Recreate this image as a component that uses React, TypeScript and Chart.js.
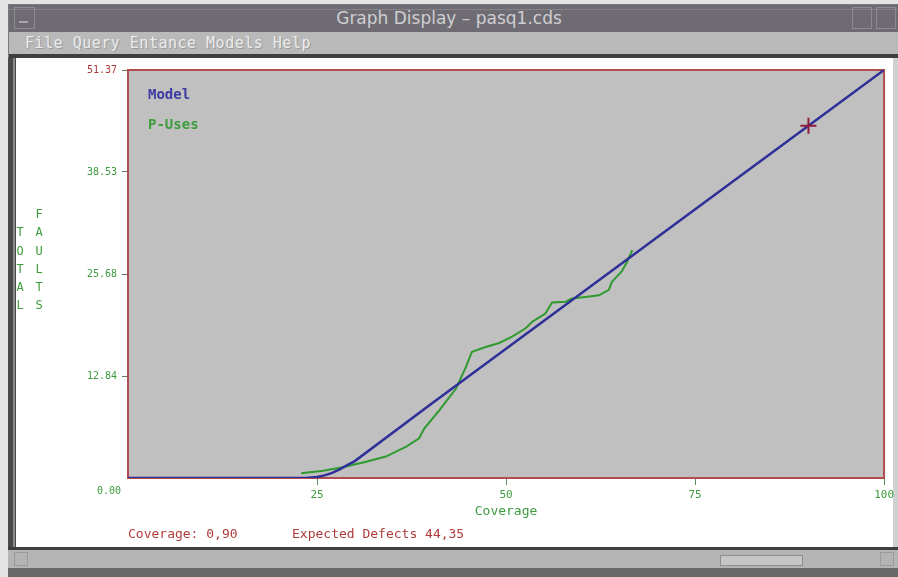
import React, { useEffect, useRef } from "react";
import { Chart, registerables } from "chart.js";

Chart.register(...registerables);

// ---- data ----
const modelCoverage = [0, 23.5, 25, 26, 27, 28, 29, 30, 40, 50, 60, 70, 80, 90, 100];
const modelFaults = [0, 0, 0.12, 0.33, 0.65, 1.08, 1.61, 2.13, 9.25, 16.27, 23.29, 30.31, 37.33, 44.35, 51.37];

const pUsesCoverage = [22.9, 25.8, 28.4, 31.5, 34.1, 36.8, 38.5, 39.2, 41.2, 43.4, 44.0, 44.7, 45.5, 47.3, 49.1, 50.8, 52.6, 53.5, 55.2, 56.1, 57.9, 58.7, 60.5, 62.3, 63.6, 64.0, 65.3, 66.0, 66.7];
const pUsesFaults = [0.6, 0.9, 1.35, 2.05, 2.7, 3.95, 5.0, 6.25, 8.55, 11.3, 12.55, 14.0, 15.9, 16.5, 17.0, 17.8, 18.85, 19.7, 20.7, 22.1, 22.2, 22.6, 22.8, 23.0, 23.7, 24.7, 26.0, 27.2, 28.7];

const markerCoverage = [90];
const markerFaults = [44.35];

const xTickValues = [25, 50, 75, 100];
const yTickValues = [12.84, 25.68, 38.53, 51.37];
const yZeroLabel = "0.00";
const xMin = 0;
const xMax = 100;
const yMin = 0;
const yMax = 51.37;

const seriesNames = ["Model", "P-Uses"];
const xTitle = "Coverage";
const yTitleCol1 = ["T", "O", "T", "A", "L"];
const yTitleCol2 = ["F", "A", "U", "L", "T", "S"];
const footerCoverage = "Coverage: 0,90";
const footerDefects = "Expected Defects 44,35";
const windowTitle = "Graph Display \u2013 pasq1.cds";
const menuItems = ["File", "Query", "Entance", "Models", "Help"];

// ---- styles ----
const GREEN = "#3d9c3d";
const BLUE = "#3b3ba3";
const RED = "#b03a3a";
const MONO = "'DejaVu Sans Mono', 'Liberation Mono', monospace";

const decorPlugin = {
  id: "decor",
  beforeDraw(chart: any) {
    const { ctx, chartArea: a } = chart;
    ctx.save();
    ctx.fillStyle = "#c0c0c0";
    ctx.fillRect(a.left, a.top, a.right - a.left, a.bottom - a.top);
    ctx.restore();
  },
  beforeDatasetsDraw(chart: any) {
    const { ctx, chartArea: a } = chart;
    ctx.save();
    ctx.strokeStyle = "#b34c52";
    ctx.lineWidth = 2;
    ctx.strokeRect(a.left, a.top, a.right - a.left, a.bottom - a.top);
    ctx.restore();
  },
  afterDraw(chart: any) {
    const { ctx, chartArea: a } = chart;
    ctx.save();
    // legend text
    ctx.textBaseline = "middle";
    ctx.textAlign = "left";
    ctx.font = `bold 14px ${MONO}`;
    ctx.fillStyle = BLUE;
    ctx.fillText(seriesNames[0], a.left + 20, a.top + 25);
    ctx.fillStyle = GREEN;
    ctx.fillText(seriesNames[1], a.left + 20, a.top + 55);
    // zero label of the y axis
    ctx.font = `10px ${MONO}`;
    ctx.textAlign = "right";
    ctx.fillStyle = GREEN;
    ctx.fillText(yZeroLabel, a.left - 7, a.bottom + 13);
    // stacked y title
    ctx.textAlign = "center";
    ctx.font = `12px ${MONO}`;
    const rowH = 18.2;
    const lastRow = 306;
    yTitleCol1.forEach((c, i) => {
      ctx.fillText(c, 20, lastRow - (yTitleCol1.length - 1 - i) * rowH);
    });
    yTitleCol2.forEach((c, i) => {
      ctx.fillText(c, 39, lastRow - (yTitleCol2.length - 1 - i) * rowH);
    });
    // footer
    ctx.textAlign = "left";
    ctx.font = `13px ${MONO}`;
    ctx.fillStyle = RED;
    ctx.fillText(footerCoverage, a.left, 535);
    ctx.fillText(footerDefects, 292, 535);
    ctx.restore();
  },
};

function ChartCanvas() {
  const ref = useRef<HTMLCanvasElement | null>(null);
  useEffect(() => {
    if (!ref.current) return;
    const chart = new Chart(ref.current, {
      type: "line",
      data: {
        datasets: [
          {
            label: seriesNames[0],
            data: modelCoverage.map((x, i) => ({ x, y: modelFaults[i] })),
            borderColor: "#2f2f98",
            borderWidth: 2.5,
            pointRadius: 0,
            tension: 0,
            order: 1,
          },
          {
            label: seriesNames[1],
            data: pUsesCoverage.map((x, i) => ({ x, y: pUsesFaults[i] })),
            borderColor: "#2f9a2f",
            borderWidth: 2,
            pointRadius: 0,
            tension: 0,
            order: 2,
          },
          {
            label: "Expected",
            data: markerCoverage.map((x, i) => ({ x, y: markerFaults[i] })),
            showLine: false,
            pointStyle: "cross",
            pointRadius: 8,
            borderColor: "#8c1c3c",
            borderWidth: 2,
            order: 0,
          },
        ],
      },
      options: {
        responsive: false,
        animation: false,
        layout: { padding: { left: 16, top: 70, right: 12, bottom: 58 } },
        plugins: { legend: { display: false }, tooltip: { enabled: false } },
        scales: {
          x: {
            type: "linear",
            min: xMin,
            max: xMax,
            afterBuildTicks: (s: any) => {
              s.ticks = xTickValues.map((v) => ({ value: v }));
            },
            afterFit: (s: any) => {
              s.height = 41;
            },
            ticks: {
              color: GREEN,
              font: { family: MONO, size: 11 },
              padding: 4,
              maxRotation: 0,
              autoSkip: false,
              callback: (v: any) => String(v),
            },
            grid: { drawOnChartArea: false, drawTicks: true, tickLength: 7, color: "#5a8a5a" },
            border: { display: false },
            title: {
              display: true,
              text: xTitle,
              color: GREEN,
              font: { family: MONO, size: 13 },
              padding: { top: 0, bottom: 0 },
            },
          },
          y: {
            type: "linear",
            min: yMin,
            max: yMax,
            afterBuildTicks: (s: any) => {
              s.ticks = yTickValues.map((v) => ({ value: v }));
            },
            afterFit: (s: any) => {
              s.width = 112;
            },
            ticks: {
              color: (c: any) => (c.tick && c.tick.value === yMax ? RED : GREEN),
              font: { family: MONO, size: 10 },
              padding: 5,
              autoSkip: false,
              callback: (v: any) => Number(v).toFixed(2),
            },
            grid: { drawOnChartArea: false, drawTicks: true, tickLength: 6, color: "#5a7a5a" },
            border: { display: false },
          },
        },
      },
      plugins: [decorPlugin],
    } as any);
    return () => chart.destroy();
  }, []);
  return (
    <canvas
      ref={ref}
      width={898}
      height={577}
      style={{ position: "absolute", left: 0, top: 0, width: 898, height: 577 }}
    />
  );
}

export default function App() {
  const abs = (s: React.CSSProperties): React.CSSProperties => ({ position: "absolute", ...s });
  return (
    <div style={{ position: "fixed", left: 0, top: 0, width: 898, height: 577, overflow: "hidden", background: "#e4e4e4" }}>
      {/* window frame */}
      <div style={abs({ left: 8, top: 4, width: 890, height: 573, background: "#7a7a7a" })} />
      {/* title bar */}
      <div style={abs({ left: 9, top: 5, width: 889, height: 27, background: "#6e6b73" })} />
      <div style={abs({ left: 9, top: 9, width: 889, height: 1, background: "#85828a" })} />
      <div style={abs({ left: 14, top: 7, width: 21, height: 22, border: "1px solid #8d8a92", boxSizing: "border-box" })} />
      <div style={abs({ left: 19, top: 21, width: 9, height: 2, background: "#a8a6ac" })} />
      <div style={abs({ left: 852, top: 7, width: 20, height: 22, border: "1px solid #8d8a92", boxSizing: "border-box" })} />
      <div style={abs({ left: 876, top: 7, width: 20, height: 22, border: "1px solid #8d8a92", boxSizing: "border-box" })} />
      <div
        style={abs({
          left: 0,
          top: 8,
          width: 898,
          textAlign: "center",
          color: "#cfcfd2",
          fontFamily: "'DejaVu Sans', sans-serif",
          fontSize: 17,
          lineHeight: "20px",
        })}
      >
        {windowTitle}
      </div>
      {/* menu bar */}
      <div style={abs({ left: 9, top: 32, width: 889, height: 22, background: "#b9b9b9" })} />
      <div
        style={abs({
          left: 25,
          top: 34,
          color: "#ececec",
          fontFamily: MONO,
          fontSize: 15,
          letterSpacing: 0.5,
          lineHeight: "18px",
          whiteSpace: "pre",
          textShadow: "1px 1px 0 #9a9a9a",
        })}
      >
        {menuItems.join(" ")}
      </div>
      <div style={abs({ left: 9, top: 54, width: 889, height: 4, background: "#3e3e3e" })} />
      {/* left frame */}
      <div style={abs({ left: 8, top: 58, width: 8, height: 490, background: "#4a4a4a" })} />
      <div style={abs({ left: 13, top: 58, width: 2, height: 490, background: "#8a8a8a" })} />
      {/* white client area */}
      <div style={abs({ left: 16, top: 58, width: 877, height: 489, background: "#ffffff" })} />
      <div style={abs({ left: 893, top: 58, width: 5, height: 489, background: "#d0d0d0" })} />
      {/* bottom separator and scrollbar */}
      <div style={abs({ left: 8, top: 547, width: 890, height: 3, background: "#3e3e3e" })} />
      <div style={abs({ left: 8, top: 550, width: 890, height: 18, background: "#b4b4b4" })} />
      <div style={abs({ left: 14, top: 552, width: 14, height: 14, border: "1px solid #9a9a9a", boxSizing: "border-box" })} />
      <div style={abs({ left: 880, top: 552, width: 14, height: 14, border: "1px solid #9a9a9a", boxSizing: "border-box" })} />
      <div style={abs({ left: 720, top: 555, width: 83, height: 11, background: "#c6c6c6", border: "1px solid #8e8e8e", boxSizing: "border-box" })} />
      <div style={abs({ left: 8, top: 568, width: 890, height: 9, background: "#6a6a6a" })} />
      <ChartCanvas />
    </div>
  );
}
